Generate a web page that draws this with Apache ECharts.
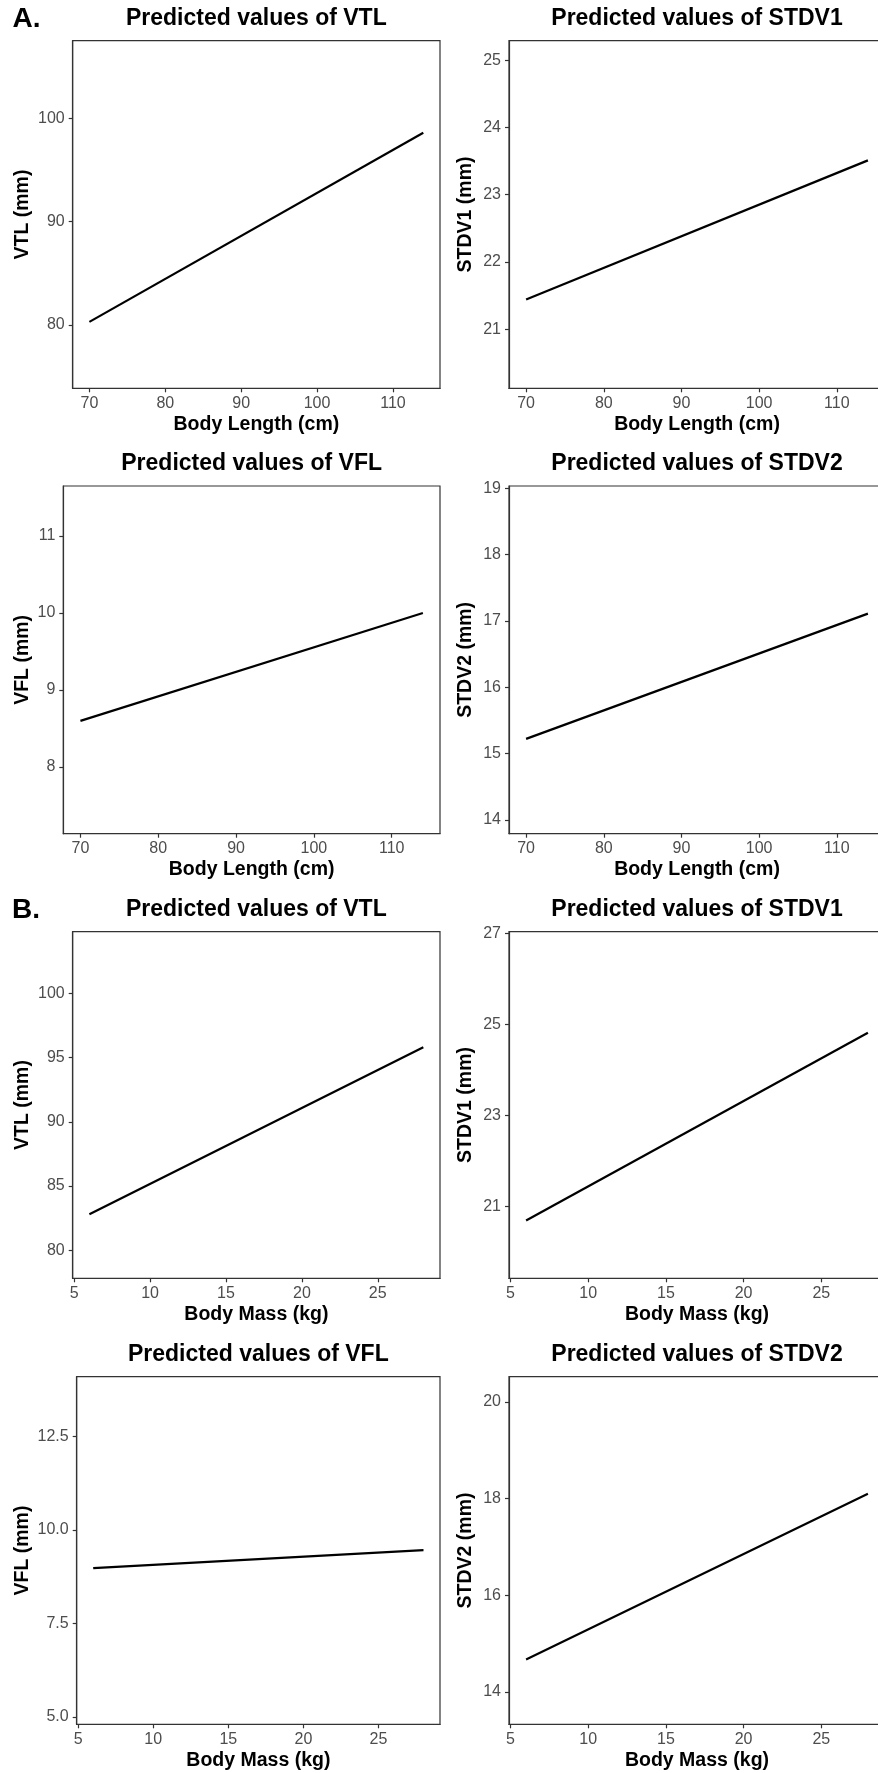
<!DOCTYPE html>
<html>
<head>
<meta charset="utf-8">
<script src="https://cdn.jsdelivr.net/npm/echarts@6/dist/echarts.min.js"></script>
<style>
  html, body { margin: 0; padding: 0; background: #fff; }
  #chart { width: 878px; height: 1773px; }
</style>
</head>
<body>
<div id="chart"></div>
<script>
// ---------- DATA ----------
const bodyLength = [70, 114];          // cm (x range of predictions)
const bodyMass = [6, 28];              // kg
const vtlByLength = [80.3, 98.6];
const stdv1ByLength = [21.44, 23.51];
const vflByLength = [8.6, 10.0];
const stdv2ByLength = [15.22, 17.11];
const vtlByMass = [82.8, 95.8];
const stdv1ByMass = [20.69, 24.82];
const vflByMass = [8.98, 9.46];
const stdv2ByMass = [14.67, 18.1];

const lengthTicks = [70, 80, 90, 100, 110];
const massTicks = [5, 10, 15, 20, 25];
const vtlLengthTicks = [80, 90, 100];
const stdv1LengthTicks = [21, 22, 23, 24, 25];
const vflLengthTicks = [8, 9, 10, 11];
const stdv2LengthTicks = [14, 15, 16, 17, 18, 19];
const vtlMassTicks = [80, 85, 90, 95, 100];
const stdv1MassTicks = [21, 23, 25, 27];
const vflMassTicks = [5, 7.5, 10, 12.5];
const vflMassTickLabels = ['5.0', '7.5', '10.0', '12.5'];
const stdv2MassTicks = [14, 16, 18, 20];

const lengthRange = [67.8, 116.2];
const massRange = [4.9, 29.1];

const titles = ['Predicted values of VTL', 'Predicted values of STDV1', 'Predicted values of VFL', 'Predicted values of STDV2',
                'Predicted values of VTL', 'Predicted values of STDV1', 'Predicted values of VFL', 'Predicted values of STDV2'];
const yNames = ['VTL (mm)', 'STDV1 (mm)', 'VFL (mm)', 'STDV2 (mm)', 'VTL (mm)', 'STDV1 (mm)', 'VFL (mm)', 'STDV2 (mm)'];
const xNames = ['Body Length (cm)', 'Body Length (cm)', 'Body Length (cm)', 'Body Length (cm)',
                'Body Mass (kg)', 'Body Mass (kg)', 'Body Mass (kg)', 'Body Mass (kg)'];

// ---------- PANEL DEFINITIONS ----------
const panels = [
  { x: bodyLength, y: vtlByLength,   xt: lengthTicks, yt: vtlLengthTicks,   xr: lengthRange, yr: [73.87, 107.5] },
  { x: bodyLength, y: stdv1ByLength, xt: lengthTicks, yt: stdv1LengthTicks, xr: lengthRange, yr: [20.12, 25.29] },
  { x: bodyLength, y: vflByLength,   xt: lengthTicks, yt: vflLengthTicks,   xr: lengthRange, yr: [7.135, 11.65] },
  { x: bodyLength, y: stdv2ByLength, xt: lengthTicks, yt: stdv2LengthTicks, xr: lengthRange, yr: [13.79, 19.035] },
  { x: bodyMass, y: vtlByMass,   xt: massTicks, yt: vtlMassTicks,   xr: massRange, yr: [77.82, 104.8] },
  { x: bodyMass, y: stdv1ByMass, xt: massTicks, yt: stdv1MassTicks, xr: massRange, yr: [19.42, 27.04] },
  { x: bodyMass, y: vflByMass,   xt: massTicks, yt: vflMassTicks, ytl: vflMassTickLabels, xr: massRange, yr: [4.80, 14.1] },
  { x: bodyMass, y: stdv2ByMass, xt: massTicks, yt: stdv2MassTicks, xr: massRange, yr: [13.33, 20.52] }
];

// ---------- LAYOUT (positions only) ----------
const layout = [
  { left: 72.7, top: 40.7,   width: 367.3, height: 347.6, yGap: 40.5 },
  { left: 509,  top: 40.7,   width: 376,   height: 347.6, yGap: 33.5 },
  { left: 63.3, top: 486,    width: 376.7, height: 347.7, yGap: 31 },
  { left: 509,  top: 486,    width: 376,   height: 347.7, yGap: 33.5 },
  { left: 72.7, top: 931.7,  width: 367.3, height: 346.6, yGap: 40.5 },
  { left: 509,  top: 931.7,  width: 376,   height: 346.6, yGap: 33.5 },
  { left: 76.7, top: 1376.7, width: 363.3, height: 347.6, yGap: 44.5 },
  { left: 509,  top: 1376.7, width: 376,   height: 347.6, yGap: 33.5 }
];

const FONT = '"Liberation Sans", Arial, Helvetica, sans-serif';
const AXIS_COLOR = '#333333';
const LABEL_COLOR = '#4D4D4D';

const grids = [], xAxes = [], yAxes = [], series = [], graphics = [];

panels.forEach((p, i) => {
  const L = layout[i];
  grids.push({
    left: L.left, top: L.top, width: L.width, height: L.height,
    show: true, borderColor: AXIS_COLOR, borderWidth: 1.2, backgroundColor: 'transparent',
    containLabel: false, outerBoundsMode: 'none'
  });
  xAxes.push({
    type: 'value', gridIndex: i, min: p.xr[0], max: p.xr[1],
    name: xNames[i], nameLocation: 'middle', nameGap: 26, nameMoveOverlap: false,
    nameTextStyle: { fontFamily: FONT, fontWeight: 'bold', fontSize: 19.5, color: '#000' },
    axisLine: { show: true, onZero: false, lineStyle: { color: AXIS_COLOR, width: 1.2 } },
    axisTick: { show: true, inside: false, length: 4, customValues: p.xt, lineStyle: { color: AXIS_COLOR, width: 1.2 } },
    axisLabel: { customValues: p.xt, margin: 7, fontFamily: FONT, fontSize: 16, color: LABEL_COLOR, hideOverlap: false },
    splitLine: { show: false }
  });
  yAxes.push({
    type: 'value', gridIndex: i, min: p.yr[0], max: p.yr[1],
    name: yNames[i], nameLocation: 'middle', nameGap: L.yGap, nameRotate: 90, nameMoveOverlap: false,
    nameTextStyle: { fontFamily: FONT, fontWeight: 'bold', fontSize: 19.5, color: '#000' },
    axisLine: { show: true, onZero: false, lineStyle: { color: AXIS_COLOR, width: 1.2 } },
    axisTick: { show: true, inside: false, length: 4, customValues: p.yt, lineStyle: { color: AXIS_COLOR, width: 1.2 } },
    axisLabel: {
      customValues: p.yt, margin: 8, fontFamily: FONT, fontSize: 16, color: LABEL_COLOR, hideOverlap: false,
      formatter: (v) => {
        if (p.ytl) {
          const k = p.yt.findIndex(t => Math.abs(t - v) < 1e-9);
          return k >= 0 ? p.ytl[k] : String(v);
        }
        return String(v);
      }
    },
    splitLine: { show: false }
  });
  series.push({
    type: 'line', xAxisIndex: i, yAxisIndex: i,
    data: p.x.map((xv, k) => [xv, p.y[k]]),
    showSymbol: false, symbol: 'none', silent: true,
    lineStyle: { color: '#000', width: 2.2 }
  });
  graphics.push({
    type: 'text', x: L.left + L.width / 2, y: L.top - 22.5, silent: true,
    style: {
      text: titles[i], font: 'bold 23px ' + FONT, fill: '#000',
      align: 'center', verticalAlign: 'middle', textAlign: 'center', textVerticalAlign: 'middle'
    }
  });
});

graphics.push({
  type: 'text', x: 12.5, y: 19.5, silent: true,
  style: { text: 'A.', font: 'bold 28px ' + FONT, fill: '#000', align: 'left', verticalAlign: 'middle', textAlign: 'left', textVerticalAlign: 'middle' }
});
graphics.push({
  type: 'text', x: 12, y: 910, silent: true,
  style: { text: 'B.', font: 'bold 28px ' + FONT, fill: '#000', align: 'left', verticalAlign: 'middle', textAlign: 'left', textVerticalAlign: 'middle' }
});

const chart = echarts.init(document.getElementById('chart'), null, { renderer: 'canvas', width: 878, height: 1773 });
chart.setOption({
  backgroundColor: '#ffffff',
  animation: false,
  grid: grids,
  xAxis: xAxes,
  yAxis: yAxes,
  series: series,
  graphic: graphics
});
</script>
</body>
</html>
